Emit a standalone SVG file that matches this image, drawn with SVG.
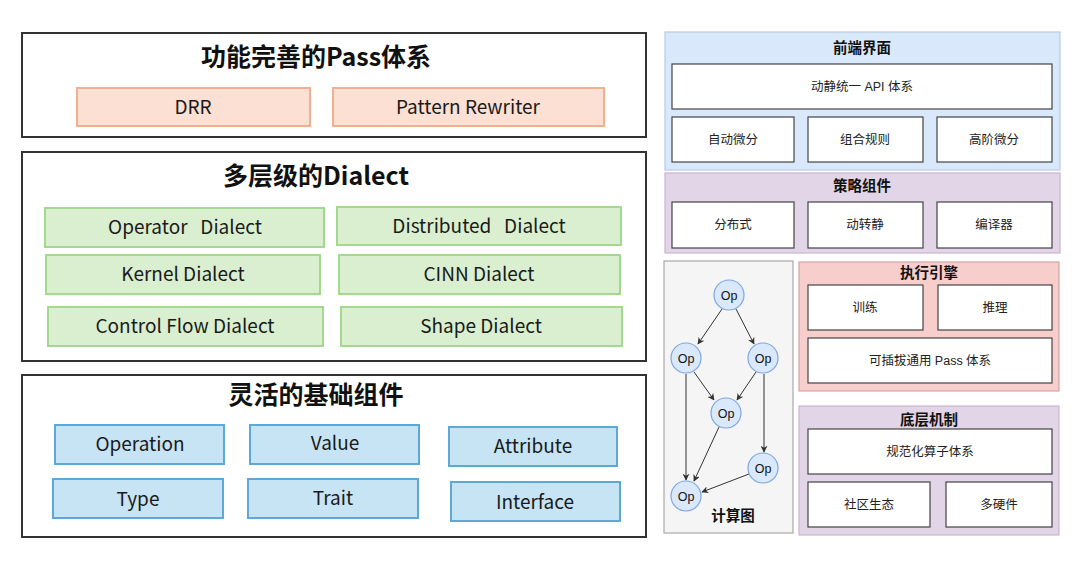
<svg xmlns="http://www.w3.org/2000/svg" width="1080" height="567" viewBox="0 0 1080 567">
<defs>
<marker id="arr" viewBox="0 0 10 10" refX="9" refY="5" markerWidth="7" markerHeight="7" orient="auto" markerUnits="userSpaceOnUse">
<path d="M0,0 L10,5 L0,10 L3,5 Z" fill="#333"/>
</marker>
<style>
.panel{fill:#fff;stroke:#333;stroke-width:2}
.ptitle{font-family:"Noto Sans CJK SC","Liberation Sans",sans-serif;font-weight:bold;font-size:25px;fill:#111;text-anchor:middle}
.lbl{font-family:"Noto Sans CJK SC","Liberation Sans",sans-serif;font-size:19px;fill:#1a1a1a;text-anchor:middle}
.org{fill:#fbe0d3;stroke:#f3b08e;stroke-width:2}
.grn{fill:#d9efcf;stroke:#a3d98e;stroke-width:2}
.blu{fill:#c6e4f4;stroke:#5ca8d8;stroke-width:2}
.rtitle{font-family:"Liberation Sans","Noto Sans CJK SC",sans-serif;font-weight:bold;font-size:14.5px;fill:#111;text-anchor:middle}
.rl{font-family:"Liberation Sans","Noto Sans CJK SC",sans-serif;font-size:12.5px;fill:#222;text-anchor:middle}
.wb{fill:#fff;stroke:#444;stroke-width:1.2}
.op{fill:#dae8fc;stroke:#7ea6e0;stroke-width:1.2}
.opt{font-family:"Liberation Sans",sans-serif;font-size:12.5px;fill:#111;text-anchor:middle}
.edge{stroke:#333;stroke-width:1;fill:none;marker-end:url(#arr)}
</style>
</defs>
<rect width="1080" height="567" fill="#fff"/>

<g id="pass-panel">
<rect class="panel" x="22" y="33" width="624" height="104"/>
<text class="ptitle" x="316" y="66">功能完善的Pass体系</text>
</g>
<g id="drr"><rect class="org" x="77" y="88" width="233" height="38"/><text class="lbl" x="193" y="114">DRR</text></g>
<g id="pattern-rewriter"><rect class="org" x="333" y="88" width="271" height="38"/><text class="lbl" x="468" y="114">Pattern Rewriter</text></g>

<g id="dialect-panel">
<rect class="panel" x="22" y="152" width="624" height="209"/>
<text class="ptitle" x="316" y="185">多层级的Dialect</text>
</g>
<g id="operator-dialect"><rect class="grn" x="45" y="208" width="279" height="39"/><text class="lbl" x="185" y="234" xml:space="preserve">Operator   Dialect</text></g>
<g id="distributed-dialect"><rect class="grn" x="337" y="207" width="284" height="38"/><text class="lbl" x="479" y="233" xml:space="preserve">Distributed   Dialect</text></g>
<g id="kernel-dialect"><rect class="grn" x="46" y="255" width="274" height="39"/><text class="lbl" x="183" y="281">Kernel Dialect</text></g>
<g id="cinn-dialect"><rect class="grn" x="339" y="255" width="281" height="39"/><text class="lbl" x="479" y="281">CINN Dialect</text></g>
<g id="control-flow-dialect"><rect class="grn" x="48" y="307" width="275" height="39"/><text class="lbl" x="185" y="333">Control Flow Dialect</text></g>
<g id="shape-dialect"><rect class="grn" x="341" y="307" width="281" height="39"/><text class="lbl" x="481" y="333">Shape Dialect</text></g>

<g id="base-panel">
<rect class="panel" x="22" y="375" width="624" height="162"/>
<text class="ptitle" x="316" y="404">灵活的基础组件</text>
</g>
<g id="operation"><rect class="blu" x="55" y="425" width="169" height="39"/><text class="lbl" x="140" y="451">Operation</text></g>
<g id="value"><rect class="blu" x="250" y="425" width="169" height="39"/><text class="lbl" x="335" y="450">Value</text></g>
<g id="attribute"><rect class="blu" x="449" y="427" width="168" height="39"/><text class="lbl" x="533" y="453">Attribute</text></g>
<g id="type"><rect class="blu" x="53" y="479" width="170" height="39"/><text class="lbl" x="138" y="506">Type</text></g>
<g id="trait"><rect class="blu" x="248" y="479" width="170" height="39"/><text class="lbl" x="333" y="505">Trait</text></g>
<g id="interface"><rect class="blu" x="451" y="482" width="169" height="39"/><text class="lbl" x="535" y="509">Interface</text></g>

<g id="frontend-panel">
<rect x="665" y="32" width="395" height="138" fill="#dae8fc" stroke="#b7cbe6" stroke-width="1.2"/>
<text class="rtitle" x="862" y="53">前端界面</text>
</g>
<g id="api"><rect class="wb" x="672" y="64" width="380" height="45"/><text class="rl" x="862" y="91">动静统一 API 体系</text></g>
<g id="autodiff"><rect class="wb" x="672" y="117" width="122" height="45"/><text class="rl" x="733" y="144">自动微分</text></g>
<g id="combine"><rect class="wb" x="808" y="117" width="115" height="45"/><text class="rl" x="865" y="144">组合规则</text></g>
<g id="highdiff"><rect class="wb" x="937" y="117" width="115" height="45"/><text class="rl" x="994" y="144">高阶微分</text></g>

<g id="strategy-panel">
<rect x="665" y="173" width="395" height="80" fill="#e1d5e7" stroke="#c8b5d3" stroke-width="1.2"/>
<text class="rtitle" x="862" y="191">策略组件</text>
</g>
<g id="distributed"><rect class="wb" x="672" y="202" width="122" height="46"/><text class="rl" x="733" y="229">分布式</text></g>
<g id="d2s"><rect class="wb" x="808" y="202" width="115" height="46"/><text class="rl" x="865" y="229">动转静</text></g>
<g id="compiler"><rect class="wb" x="937" y="202" width="115" height="46"/><text class="rl" x="994" y="229">编译器</text></g>

<g id="graph-panel">
<rect x="664" y="261" width="129" height="272" fill="#f5f5f5" stroke="#a8a8a8" stroke-width="1.2"/>
<text class="rtitle" x="733" y="521" font-size="13">计算图</text>
</g>

<g id="exec-panel">
<rect x="799" y="262" width="260" height="129" fill="#f8cecc" stroke="#d8a3a1" stroke-width="1.2"/>
<text class="rtitle" x="929" y="278">执行引擎</text>
</g>
<g id="train"><rect class="wb" x="808" y="285" width="115" height="45"/><text class="rl" x="865" y="312">训练</text></g>
<g id="infer"><rect class="wb" x="938" y="285" width="114" height="45"/><text class="rl" x="995" y="312">推理</text></g>
<g id="pass-sys"><rect class="wb" x="808" y="338" width="244" height="45"/><text class="rl" x="930" y="365">可插拔通用 Pass 体系</text></g>

<g id="base-mech-panel">
<rect x="799" y="406" width="260" height="129" fill="#e1d5e7" stroke="#c8b5d3" stroke-width="1.2"/>
<text class="rtitle" x="929" y="425">底层机制</text>
</g>
<g id="op-sys"><rect class="wb" x="808" y="429" width="244" height="45"/><text class="rl" x="930" y="456">规范化算子体系</text></g>
<g id="community"><rect class="wb" x="808" y="482" width="122" height="45"/><text class="rl" x="869" y="509">社区生态</text></g>
<g id="hardware"><rect class="wb" x="946" y="482" width="106" height="45"/><text class="rl" x="999" y="509">多硬件</text></g>

<g id="connectors">
<line class="edge" x1="722" y1="309" x2="698" y2="344"/>
<line class="edge" x1="736" y1="309" x2="754" y2="344"/>
<line class="edge" x1="694" y1="372" x2="714" y2="400"/>
<line class="edge" x1="756" y1="372" x2="737" y2="400"/>
<line class="edge" x1="686" y1="374" x2="686" y2="480"/>
<line class="edge" x1="719" y1="427" x2="694" y2="481"/>
<line class="edge" x1="764" y1="374" x2="764" y2="452"/>
<line class="edge" x1="749" y1="474" x2="702" y2="492"/>
</g>

<g id="op1"><circle class="op" cx="729" cy="295" r="15"/><text class="opt" x="729" y="299.5">Op</text></g>
<g id="op2"><circle class="op" cx="686" cy="358" r="15"/><text class="opt" x="686" y="362.5">Op</text></g>
<g id="op3"><circle class="op" cx="763" cy="358" r="15"/><text class="opt" x="763" y="362.5">Op</text></g>
<g id="op4"><circle class="op" cx="726" cy="413" r="15"/><text class="opt" x="726" y="417.5">Op</text></g>
<g id="op5"><circle class="op" cx="763" cy="468" r="15"/><text class="opt" x="763" y="472.5">Op</text></g>
<g id="op6"><circle class="op" cx="686" cy="496" r="15"/><text class="opt" x="686" y="500.5">Op</text></g>
</svg>
